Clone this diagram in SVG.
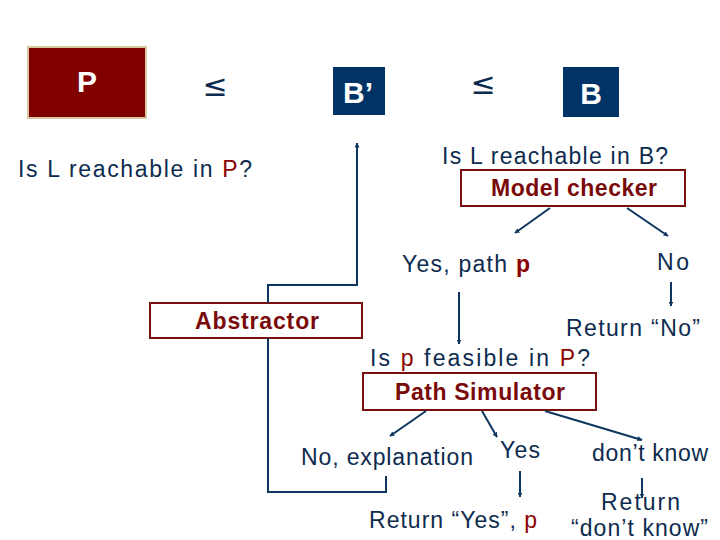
<svg xmlns="http://www.w3.org/2000/svg" width="720" height="540" viewBox="0 0 720 540">
<style>
.t{font-family:"Liberation Sans",Arial,sans-serif;font-size:23px;fill:#0d2b4e}
.r{fill:#8b0000}
.b{font-family:"Liberation Sans",Arial,sans-serif;font-size:23px;font-weight:bold;fill:#7a0a0a}
.w{font-family:"Liberation Sans",Arial,sans-serif;font-size:30px;font-weight:bold;fill:#ffffff;text-anchor:middle}
.le{font-family:"DejaVu Sans",sans-serif;font-size:30px;fill:#0d2b4e;text-anchor:middle}
.box{fill:#ffffff;stroke:#7a1010;stroke-width:2}
.c{fill:none;stroke:#0d3560;stroke-width:2}
</style>
<defs>
<marker id="ah" viewBox="0 0 10 10" refX="9" refY="5" markerWidth="5" markerHeight="5" orient="auto" markerUnits="userSpaceOnUse">
<path d="M0,0 L10,5 L0,10 z" fill="#0d3560"/>
</marker>
</defs>
<rect width="720" height="540" fill="#ffffff"/>
<g id="P">
<rect x="28" y="47" width="118" height="71" fill="#800000" stroke="#d8c8a0" stroke-width="2"/>
<text class="w" x="87" y="92">P</text>
</g>
<text class="le" x="215" y="96">≤</text>
<g id="Bprime">
<rect x="333" y="67" width="52" height="48" fill="#003366"/>
<text class="w" x="358" y="103" font-size="28">B’</text>
</g>
<text class="le" x="483" y="94">≤</text>
<g id="B">
<rect x="563" y="67" width="56" height="50" fill="#003366"/>
<text class="w" x="591" y="104" font-size="28">B</text>
</g>
<text class="t" x="18" y="177" textLength="234">Is L reachable in <tspan class="r">P</tspan>?</text>
<text class="t" x="442" y="164" textLength="226">Is L reachable in B?</text>
<g id="modelchecker">
<rect class="box" x="461" y="170" width="224" height="36"/>
<text class="b" x="491" y="196" textLength="166">Model checker</text>
</g>
<text class="t" x="402" y="272" textLength="128">Yes, path <tspan class="r" font-weight="bold">p</tspan></text>
<text class="t" x="657" y="270" textLength="32">No</text>
<text class="t" x="566" y="336" textLength="134">Return “No”</text>
<g id="abstractor">
<rect class="box" x="150" y="303" width="212" height="35"/>
<text class="b" x="195" y="329" textLength="124">Abstractor</text>
</g>
<text class="t" x="370" y="366" textLength="220">Is <tspan class="r">p</tspan> feasible in <tspan class="r">P</tspan>?</text>
<g id="pathsimulator">
<rect class="box" x="363" y="373" width="233" height="37"/>
<text class="b" x="395" y="400" textLength="170">Path Simulator</text>
</g>
<text class="t" x="301" y="465" textLength="172">No, explanation</text>
<text class="t" x="500" y="458" textLength="40">Yes</text>
<text class="t" x="592" y="461" textLength="116">don’t know</text>
<text class="t" x="369" y="528" textLength="168">Return “Yes”, <tspan class="r">p</tspan></text>
<text class="t" x="601" y="510" textLength="79">Return</text>
<text class="t" x="571" y="536" textLength="137">“don’t know”</text>
<g id="connectors">
<path class="c" d="M268,303 V285 H357 V143" marker-end="url(#ah)"/>
<path class="c" d="M268,338 V492 H386 V476"/>
<path class="c" d="M550,208 L515,233" marker-end="url(#ah)"/>
<path class="c" d="M627,208 L668,236" marker-end="url(#ah)"/>
<path class="c" d="M671,282 V306" marker-end="url(#ah)"/>
<path class="c" d="M459,292 V344" marker-end="url(#ah)"/>
<path class="c" d="M426,411 L390,436" marker-end="url(#ah)"/>
<path class="c" d="M482,411 L497,437" marker-end="url(#ah)"/>
<path class="c" d="M545,411 L642,440" marker-end="url(#ah)"/>
<path class="c" d="M520,471 V497" marker-end="url(#ah)"/>
<path class="c" d="M642,478 V498" marker-end="url(#ah)"/>
</g>
</svg>
